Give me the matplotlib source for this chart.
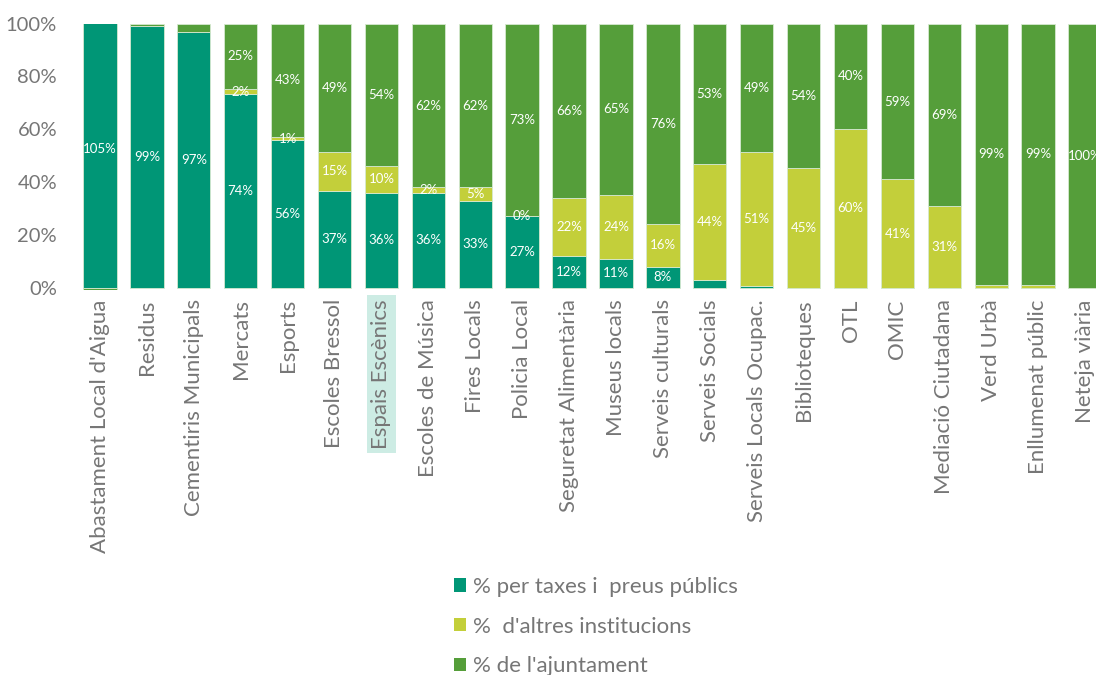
import numpy as np
import matplotlib.pyplot as plt
from matplotlib.patches import Patch

plt.rcParams["font.family"] = ["Lato", "DejaVu Sans"]

# Data (% of cost of each service)
services = [
    "Abastament Local d'Aigua", "Residus", "Cementiris Municipals", "Mercats",
    "Esports", "Escoles Bressol", "Espais Escènics", "Escoles de Música",
    "Fires Locals", "Policia Local", "Seguretat Alimentària", "Museus locals",
    "Serveis culturals", "Serveis Socials", "Serveis Locals Ocupac.",
    "Biblioteques", "OTL", "OMIC", "Mediació Ciutadana", "Verd Urbà",
    "Enllumenat públic", "Neteja viària",
]
taxes = [105, 99, 97, 74, 56, 37, 36, 36, 33, 27, 12, 11, 8, 3, 0.6,
         0, 0, 0, 0, 0, 0, 0]
altres = [0, 0, 0, 2, 1, 15, 10, 2, 5, 0, 22, 24, 16, 44, 51,
          45, 60, 41, 31, 1, 1, 0]
ajuntament = [-5, 1, 3, 25, 43, 49, 54, 62, 62, 73, 66, 65, 76, 53, 49,
              54, 40, 59, 69, 99, 99, 100]
series_names = ["% per taxes i  preus públics", "%  d'altres institucions",
                "% de l'ajuntament"]
# (service index, series index) of segments without a value label
hidden_labels = {(0, 1), (0, 2), (1, 1), (1, 2), (2, 1), (2, 2),
                 (13, 0), (14, 0), (15, 0), (16, 0), (17, 0), (18, 0),
                 (19, 0), (20, 0), (21, 0), (19, 1), (20, 1), (21, 1)}

colors = ["#009676", "#C3CF3A", "#559E3A"]
grey = "#767676"


def main():
    data = np.array([taxes, altres, ajuntament], dtype=float)
    total = data.sum(axis=0)
    pct = data / total * 100

    fig = plt.figure(figsize=(10.96, 6.75), dpi=100)
    ax = fig.add_axes([76.5 / 1096, 1 - 289.5 / 675, 1032 / 1096, 265.8 / 675])

    x = np.arange(len(services))
    pos_bottom = np.zeros(len(services))
    neg_bottom = np.zeros(len(services))
    for s in range(3):
        h = pct[s]
        bottom = np.where(h >= 0, pos_bottom, neg_bottom)
        ax.bar(x, h, bottom=bottom, width=0.71, color=colors[s],
               edgecolor="#d6e9d0", linewidth=0.6, label=series_names[s])
        for i in range(len(services)):
            if (i, s) in hidden_labels:
                continue
            ax.text(x[i], bottom[i] + h[i] / 2, f"{data[s, i]:.0f}%",
                    ha="center", va="center", color="white", fontsize=9.5)
        pos_bottom = pos_bottom + np.where(h >= 0, h, 0)
        neg_bottom = neg_bottom + np.where(h < 0, h, 0)

    ax.set_xlim(-0.5, len(services) - 0.5)
    ax.set_ylim(-0.7, 100)
    ax.set_yticks([0, 20, 40, 60, 80, 100])
    ax.set_yticklabels([f"{v}%" for v in [0, 20, 40, 60, 80, 100]])
    ax.set_xticks(x)
    ax.set_xticklabels(services, rotation=90, va="top", ha="center")
    ax.tick_params(axis="y", length=0, labelsize=14.5, labelcolor=grey, pad=14)
    ax.tick_params(axis="x", length=0, labelsize=16, labelcolor=grey, pad=7)
    for sp in ax.spines.values():
        sp.set_visible(False)

    hl = ax.get_xticklabels()[6]
    hl.set_bbox(dict(facecolor="#cdece4", edgecolor="none", pad=3))

    handles = [Patch(facecolor=c) for c in colors]
    fig.legend(handles, series_names, loc="upper left",
               bbox_to_anchor=(434 / 1096, 1 - 557 / 675), frameon=False,
               fontsize=16, labelcolor=grey, handlelength=0.55,
               handleheight=0.55, handletextpad=0.3, labelspacing=0.88)

    fig.savefig("out.png", dpi=100)


if __name__ == "__main__":
    main()
